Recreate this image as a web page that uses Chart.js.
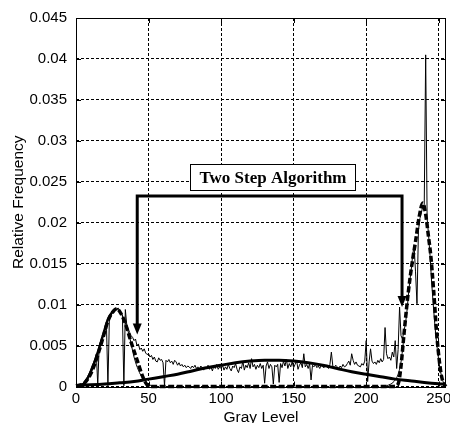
<!DOCTYPE html>
<html><head><meta charset="utf-8">
<script src="https://cdn.jsdelivr.net/npm/chart.js@4/dist/chart.umd.min.js"></script>
<style>html,body{margin:0;padding:0;background:#fff}#wrap{width:450px;height:423px}</style>
</head><body><div id="wrap"><canvas id="c" width="450" height="423"></canvas></div>
<script>
// ---------- data ----------
const xTicks = [0, 50, 100, 150, 200, 250];
const yTicks = [0, 0.005, 0.01, 0.015, 0.02, 0.025, 0.03, 0.035, 0.04, 0.045];

// histogram: relative frequency for gray levels 0..255
const histogram = [
  0.0000,0.0001,0.0001,0.0002,0.0003,0.0004,0.0006,0.0009,0.0012,0.0016,
  0.0020,0.0025,0.0029,0.0034,0.0040,0.0002,0.0050,0.0055,0.0060,0.0064,
  0.0069,0.0074,0.0001,0.0082,0.0086,0.0090,0.0093,0.0095,0.0094,0.0096,
  0.0092,0.0090,0.0086,0.0001,0.0094,0.0075,0.0070,0.0066,0.0062,0.0060,
  0.0056,0.0058,0.0050,0.0052,0.0045,0.0047,0.0043,0.0046,0.0041,0.0039,
  0.0040,0.0036,0.0038,0.0033,0.0036,0.0031,0.0030,0.0035,0.0032,0.0033,
  0.0029,0.0001,0.0032,0.0030,0.0033,0.0029,0.0031,0.0027,0.0032,0.0030,
  0.0026,0.0029,0.0025,0.0027,0.0024,0.0026,0.0023,0.0025,0.0024,0.0022,
  0.0025,0.0023,0.0026,0.0022,0.0024,0.0021,0.0025,0.0023,0.0020,0.0024,
  0.0022,0.0026,0.0021,0.0024,0.0019,0.0025,0.0022,0.0027,0.0021,0.0024,
  0.0022,0.0026,0.0020,0.0024,0.0021,0.0027,0.0022,0.0019,0.0025,0.0023,
  0.0028,0.0021,0.0017,0.0024,0.0022,0.0031,0.0020,0.0026,0.0023,0.0029,
  0.0022,0.0034,0.0024,0.0027,0.0021,0.0026,0.0023,0.0028,0.0022,0.0026,
  0.0004,0.0025,0.0030,0.0022,0.0027,0.0024,0.0003,0.0026,0.0024,0.0027,
  0.0005,0.0028,0.0023,0.0031,0.0025,0.0033,0.0022,0.0028,0.0024,0.0030,
  0.0023,0.0027,0.0032,0.0021,0.0026,0.0029,0.0023,0.0040,0.0024,0.0027,
  0.0022,0.0028,0.0008,0.0026,0.0024,0.0027,0.0023,0.0025,0.0022,0.0026,
  0.0024,0.0023,0.0026,0.0024,0.0022,0.0027,0.0042,0.0025,0.0023,0.0026,
  0.0024,0.0022,0.0025,0.0023,0.0027,0.0024,0.0025,0.0028,0.0031,0.0026,
  0.0040,0.0032,0.0027,0.0030,0.0026,0.0025,0.0024,0.0028,0.0026,0.0031,
  0.0056,0.0006,0.0030,0.0046,0.0031,0.0028,0.0030,0.0027,0.0032,0.0029,
  0.0034,0.0030,0.0033,0.0072,0.0040,0.0034,0.0036,0.0032,0.0042,0.0036,
  0.0056,0.0022,0.0045,0.0097,0.0062,0.0058,0.0068,0.0076,0.0090,0.0110,
  0.0128,0.0142,0.0160,0.0172,0.0140,0.0101,0.0190,0.0205,0.0212,0.0220,
  0.0222,0.0405,0.0205,0.0185,0.0160,0.0130,0.0105,0.0082,0.0062,0.0046,
  0.0032,0.0020,0.0012,0.0006,0.0003,0.0001
];

// two-step algorithm fit (thick dashed)
const twoStepX = [0,5,8,10,12,14,17,19,22,25,28,31,34,38,42,46,49,52,100,150,200,218,221,222.5,224,226,229,232,234,236.5,239,241,243,244.5,246.5,248.7,250.5,252,254,255];
const twoStepY = [0.0001,0.0003,0.0009,0.0015,0.0023,0.0033,0.0050,0.0062,0.0080,0.0090,0.0095,0.0089,0.0077,0.0054,0.0033,0.0012,0.0002,0,0,0,0,0,0.0001,0.0006,0.0025,0.0063,0.0115,0.0155,0.0177,0.0207,0.0224,0.0210,0.0182,0.0160,0.0117,0.0062,0.0030,0.0012,0.0002,0];

// broad middle component (thick solid)
const broadX = [0,10,20,30,40,50,60,70,80,90,100,110,120,130,140,150,160,170,180,190,200,210,220,230,240,250,255];
const broadY = [0.00013,0.0002,0.0003,0.00045,0.0006,0.0009,0.0012,0.0015,0.0019,0.0023,0.0026,0.0029,0.0031,0.0032,0.0032,0.0031,0.0029,0.0026,0.0022,0.0018,0.0015,0.0012,0.0009,0.0007,0.0005,0.00035,0.0003];

// left component rising flank (thick solid)
const leftCompX = [0,5,8,10,12,14,17,19,22,25,28];
const leftCompY = [0.0001,0.0003,0.0010,0.0017,0.0026,0.0036,0.0053,0.0065,0.0082,0.0091,0.0095];

// thin smooth component tails
const tailLX = [28,31,34,37,40,43,46,49,52,55];
const tailLY = [0.0095,0.0090,0.0078,0.0060,0.0036,0.0020,0.0010,0.0004,0.0001,0];
const tailRX = [214,217,220,222,224,226];
const tailRY = [0.0001,0.0003,0.0008,0.0015,0.0030,0.0060];

// annotation bracket and arrows
const bracketX = [42.2, 42.2, 224.7, 224.7];
const bracketY = [0.0073, 0.02325, 0.02325, 0.0106];
const arrowX = [42.2, 224.7];
const arrowTipY = [0.00635, 0.0097];
const boxLabel = 'Two Step Algorithm';
const boxX = [78.6, 192.4];
const boxY = [0.02397, 0.02713];

// ---------- build ----------
const pts = (xs, ys) => xs.map((v, i) => ({x: v, y: ys[i]}));
const histPts = histogram.map((v, i) => ({x: i, y: v}));

const overlay = {
  id: 'overlay',
  afterDatasetsDraw(chart) {
    const {ctx, chartArea: a, scales: {x, y}} = chart;
    ctx.save();
    ctx.setLineDash([]);
    ctx.strokeStyle = '#000';
    ctx.lineWidth = 1;
    ctx.beginPath();
    xTicks.forEach(t => {
      const px = Math.round(x.getPixelForValue(t)) + 0.5;
      ctx.moveTo(px, a.bottom); ctx.lineTo(px, a.bottom - 5);
      ctx.moveTo(px, a.top); ctx.lineTo(px, a.top + 5);
    });
    yTicks.forEach(t => {
      const py = Math.round(y.getPixelForValue(t)) + 0.5;
      ctx.moveTo(a.left, py); ctx.lineTo(a.left + 5, py);
      ctx.moveTo(a.right, py); ctx.lineTo(a.right - 5, py);
    });
    ctx.stroke();
    ctx.strokeRect(Math.round(a.left) + 0.5, Math.round(a.top) + 0.5, Math.round(a.right - a.left) - 1, Math.round(a.bottom - a.top));
    ctx.fillStyle = '#000';
    arrowX.forEach((g, i) => {
      const px = x.getPixelForValue(g), py = y.getPixelForValue(arrowTipY[i]);
      ctx.beginPath();
      ctx.moveTo(px - 4.5, py - 11);
      ctx.lineTo(px + 4.5, py - 11);
      ctx.lineTo(px, py);
      ctx.closePath();
      ctx.fill();
    });
    const bx1 = Math.round(x.getPixelForValue(boxX[0])) + 0.5, bx2 = Math.round(x.getPixelForValue(boxX[1])) + 0.5;
    const by1 = Math.round(y.getPixelForValue(boxY[1])) + 0.5, by2 = Math.round(y.getPixelForValue(boxY[0])) + 0.5;
    ctx.fillStyle = '#fff';
    ctx.fillRect(bx1, by1, bx2 - bx1, by2 - by1);
    ctx.strokeRect(bx1, by1, bx2 - bx1, by2 - by1);
    ctx.fillStyle = '#000';
    ctx.font = 'bold 17px "Liberation Serif", "Times New Roman", serif';
    ctx.textAlign = 'center';
    ctx.textBaseline = 'middle';
    ctx.fillText(boxLabel, (bx1 + bx2) / 2, (by1 + by2) / 2 + 1);
    ctx.restore();
  }
};

Chart.defaults.font.family = '"Liberation Sans", Arial, sans-serif';
Chart.defaults.color = '#000';

new Chart(document.getElementById('c'), {
  type: 'line',
  data: {
    datasets: [
      {label: 'bracket', data: pts(bracketX, bracketY), borderColor: '#000', borderWidth: 3, pointRadius: 0, tension: 0, order: 0, borderJoinStyle: 'miter'},
      {label: 'two step', data: pts(twoStepX, twoStepY), borderColor: '#000', borderWidth: 3.5, borderDash: [6, 2.5], pointRadius: 0, cubicInterpolationMode: 'monotone', order: 1, clip: 5},
      {label: 'left component', data: pts(leftCompX, leftCompY), borderColor: '#000', borderWidth: 2.5, pointRadius: 0, cubicInterpolationMode: 'monotone', order: 2},
      {label: 'broad component', data: pts(broadX, broadY), borderColor: '#000', borderWidth: 3, pointRadius: 0, cubicInterpolationMode: 'monotone', order: 3, clip: 3},
      {label: 'tail L', data: pts(tailLX, tailLY), borderColor: '#000', borderWidth: 1, pointRadius: 0, cubicInterpolationMode: 'monotone', order: 4},
      {label: 'tail R', data: pts(tailRX, tailRY), borderColor: '#000', borderWidth: 1, pointRadius: 0, cubicInterpolationMode: 'monotone', order: 4},
      {label: 'histogram', data: histPts, borderColor: '#000', borderWidth: 1, pointRadius: 0, tension: 0, order: 5}
    ]
  },
  options: {
    responsive: false,
    animation: false,
    devicePixelRatio: 1,
    layout: {padding: {left: 11, top: 16, right: 4, bottom: 0}},
    plugins: {legend: {display: false}, tooltip: {enabled: false}},
    scales: {
      x: {
        type: 'linear', min: 0, max: 255,
        afterBuildTicks: s => { s.ticks = xTicks.map(v => ({value: v})); },
        afterFit: s => { s.height = 36.5; s.paddingRight = 0; s.paddingLeft = 0; },
        ticks: {font: {size: 15}, padding: 3, maxRotation: 0, color: '#000'},
        grid: {color: '#000', lineWidth: 1, drawTicks: false},
        border: {display: false, dash: [3, 2]},
        title: {display: true, text: 'Gray Level', font: {size: 15.5, lineHeight: 1}, padding: {top: 0, bottom: -2}, color: '#000'}
      },
      y: {
        type: 'linear', min: 0, max: 0.045,
        afterBuildTicks: s => { s.ticks = yTicks.map(v => ({value: v})); },
        afterFit: s => { s.width = 65; },
        ticks: {font: {size: 15}, padding: 9, color: '#000', callback: v => String(+v.toFixed(3))},
        grid: {color: '#000', lineWidth: 1, drawTicks: false},
        border: {display: false, dash: [3, 2]},
        title: {display: true, text: 'Relative Frequency', font: {size: 15.5, lineHeight: 1}, padding: {top: 0, bottom: 0}, color: '#000'}
      }
    }
  },
  plugins: [overlay]
});
</script>
</body></html>
